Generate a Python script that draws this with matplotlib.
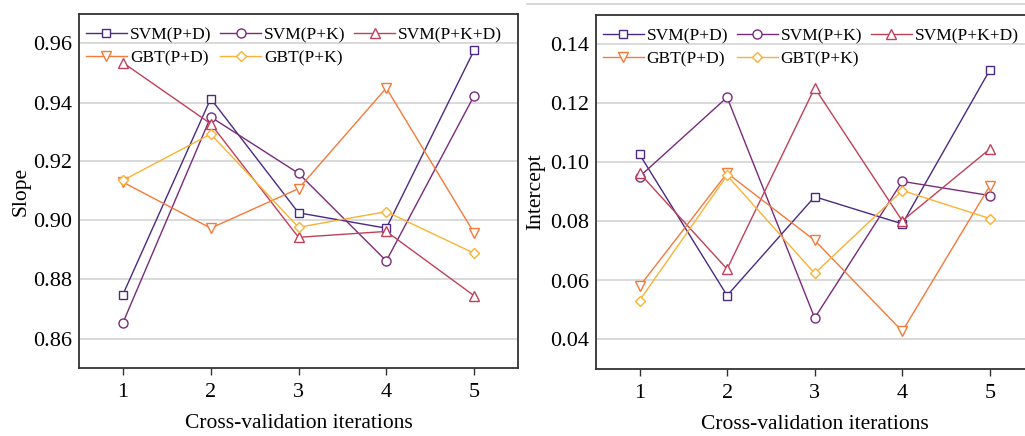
import numpy as np
import matplotlib
matplotlib.use('Agg')
import matplotlib.pyplot as plt
from matplotlib.lines import Line2D

plt.rcParams['font.family'] = ['Liberation Serif', 'DejaVu Serif']

# data
iterations = [1, 2, 3, 4, 5]
labels = ['SVM(P+D)', 'SVM(P+K)', 'SVM(P+K+D)', 'GBT(P+D)', 'GBT(P+K)']
colors = ['#4b2a84', '#7a2a7c', '#c0405a', '#f47a3a', '#f9b233']
markers = ['s', 'o', '^', 'v', 'D']

slope_svm_pd = [0.8749, 0.9413, 0.9026, 0.8974, 0.9577]
slope_svm_pk = [0.8653, 0.9351, 0.9160, 0.8863, 0.9423]
slope_svm_pkd = [0.9535, 0.9328, 0.8943, 0.8963, 0.8745]
slope_gbt_pd = [0.9130, 0.8974, 0.9108, 0.9449, 0.8958]
slope_gbt_pk = [0.9136, 0.9293, 0.8977, 0.9030, 0.8889]

icpt_svm_pd = [0.1028, 0.0549, 0.0884, 0.0792, 0.1314]
icpt_svm_pk = [0.0952, 0.1221, 0.0473, 0.0936, 0.0888]
icpt_svm_pkd = [0.0964, 0.0639, 0.1253, 0.0802, 0.1046]
icpt_gbt_pd = [0.0580, 0.0964, 0.0736, 0.0428, 0.0921]
icpt_gbt_pk = [0.0532, 0.0956, 0.0624, 0.0905, 0.0810]

slopes = [slope_svm_pd, slope_svm_pk, slope_svm_pkd, slope_gbt_pd, slope_gbt_pk]
intercepts = [icpt_svm_pd, icpt_svm_pk, icpt_svm_pkd, icpt_gbt_pd, icpt_gbt_pk]


def draw_panel(ax, series, ylabel, ylim, yticks, ylab_x):
    handles = []
    for vals, lab, c, m in zip(series, labels, colors, markers):
        ms = 5.5 if m in ('s', 'D') else 6.5
        h, = ax.plot(iterations, vals, color=c, marker=m, markersize=ms,
                     markerfacecolor='white', markeredgecolor=c,
                     markeredgewidth=1.0, linewidth=1.0, label=lab, zorder=3)
        handles.append(h)
    ax.set_xlim(0.5, 5.5)
    ax.set_ylim(ylim)
    ax.set_xticks(iterations)
    ax.set_yticks(yticks)
    ax.set_yticklabels(['%.2f' % t for t in yticks])
    ax.grid(axis='y', color='#d9d9d9', linewidth=1.4, zorder=0)
    ax.set_axisbelow(True)
    ax.tick_params(axis='x', direction='out', length=5, width=1, labelsize=16, pad=6, color='#333333')
    ax.tick_params(axis='y', length=0, labelsize=16, pad=5)
    for s in ax.spines.values():
        s.set_color('#333333')
        s.set_linewidth(1.3)
    ax.set_xlabel('Cross-validation iterations', fontsize=15.5)
    ax.xaxis.set_label_coords(0.5, -0.131)
    ax.set_ylabel(ylabel, fontsize=15.5)
    ax.yaxis.set_label_coords(ylab_x, 0.5)
    # legend order so that rows read SVM..., then GBT...
    order = [0, 3, 1, 4, 2]
    ax.legend([handles[i] for i in order], [labels[i] for i in order],
              ncol=3, loc='upper left', bbox_to_anchor=(0.0, 0.983), frameon=False,
              fontsize=12.5, handlelength=2.36, handletextpad=0.17, columnspacing=0.5,
              labelspacing=0.42, borderaxespad=0.0, borderpad=0.4)


fig = plt.figure(figsize=(10.25, 4.36), dpi=100)
ax1 = fig.add_axes([79 / 1025, 68 / 436, 439 / 1025, 354 / 436])
ax2 = fig.add_axes([595.7 / 1025, 67 / 436, 438 / 1025, 354 / 436])

draw_panel(ax1, slopes, 'Slope', (0.85, 0.97), [0.86, 0.88, 0.90, 0.92, 0.94, 0.96], -0.111)
draw_panel(ax2, intercepts, 'Intercept', (0.03, 0.15), [0.04, 0.06, 0.08, 0.10, 0.12, 0.14], -0.116)

# faint line along the top of the right half of the source image
fig.add_artist(Line2D([527 / 1025, 1.0], [1 - 4 / 436, 1 - 4 / 436], color='#d0d0d0', linewidth=1.2))

fig.savefig('out.png', dpi=100)
